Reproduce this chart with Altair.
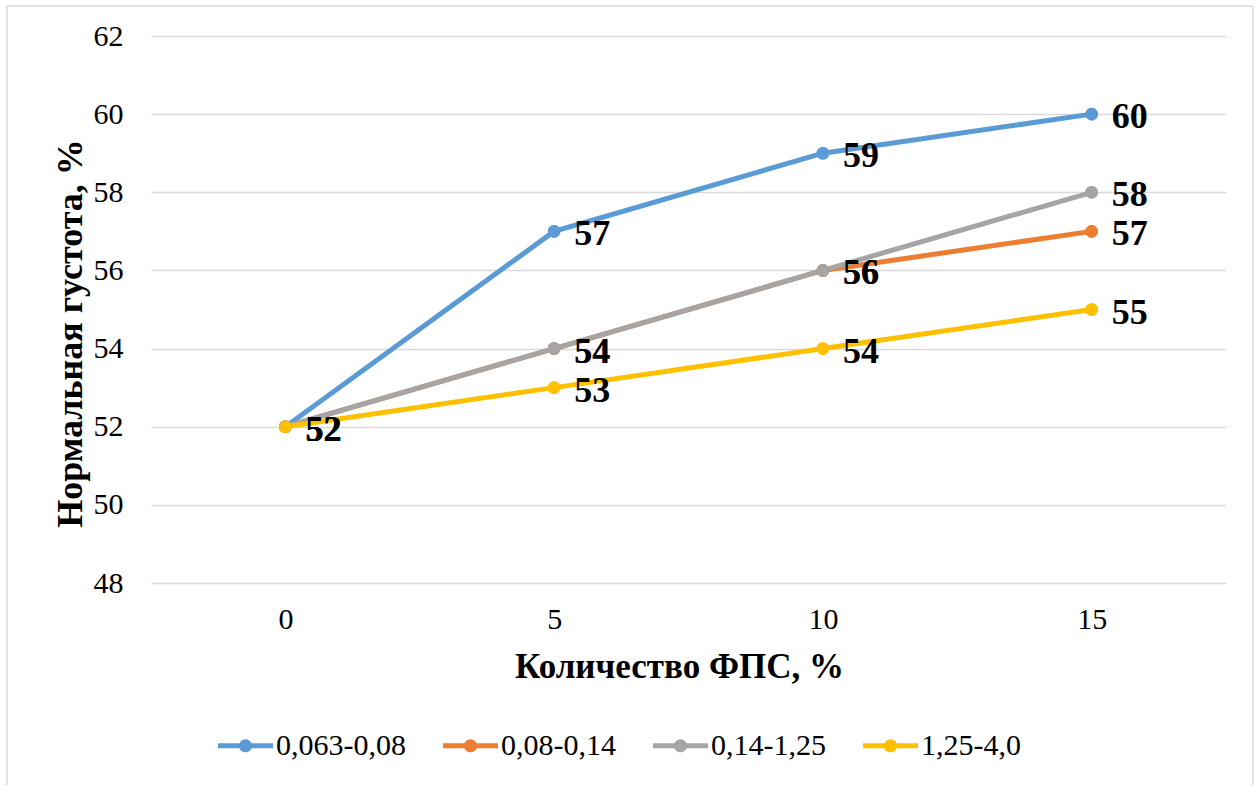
import altair as alt
import pandas as pd

# Количество ФПС, %
fps_amount = [0, 5, 10, 15]

# Fraction series and their normal consistency values, %
series_names = ["0,063-0,08", "0,08-0,14", "0,14-1,25", "1,25-4,0"]
s_0063_008 = [52, 57, 59, 60]
s_008_014 = [52, 54, 56, 57]
s_014_125 = [52, 54, 56, 58]
s_125_40 = [52, 53, 54, 55]

series_colors = ["#5B9BD5", "#ED7D31", "#A5A5A5", "#FFC000"]
y_ticks = [48, 50, 52, 54, 56, 58, 60, 62]

rows = []
for name, values in zip(series_names, [s_0063_008, s_008_014, s_014_125, s_125_40]):
    for xv, yv in zip(fps_amount, values):
        rows.append({"fps": xv, "val": yv, "series": name})
df = pd.DataFrame(rows)

FONT = "Liberation Serif"
W, H = 1075, 547

x_enc = alt.X(
    "fps:O",
    sort=fps_amount,
    scale=alt.Scale(type="point", padding=0.5),
    axis=alt.Axis(
        title="Количество ФПС, %",
        labelAngle=0,
        ticks=False,
        domain=False,
        grid=False,
        labelFont=FONT,
        labelFontSize=30,
        labelColor="#000000",
        labelPadding=21,
        titleFont=FONT,
        titleFontSize=35,
        titleFontWeight="bold",
        titleColor="#000000",
        titlePadding=15,
        titleX=528,
        titleAlign="center",
    ),
)
y_enc = alt.Y(
    "val:Q",
    scale=alt.Scale(domain=[48, 62], nice=False, zero=False),
    axis=alt.Axis(
        title="Нормальная густота, %",
        values=y_ticks,
        ticks=False,
        domain=False,
        grid=True,
        gridColor="#D9D9D9",
        gridWidth=1.5,
        labelFont=FONT,
        labelFontSize=30,
        labelColor="#000000",
        labelPadding=28,
        titleFont=FONT,
        titleFontSize=36,
        titleFontWeight="bold",
        titleColor="#000000",
        titleX=-81,
        titleY=297,
        titleAlign="center",
        titleBaseline="middle",
    ),
)
color_scale = alt.Scale(domain=series_names, range=series_colors)

base = alt.Chart(df)

# legend glyph: a short line with a dot in the middle (same winding, so the dot stays filled)
legend_path = (
    "M-1,-0.09 L1,-0.09 L1,0.09 L-1,0.09 Z "
    "M-0.24,0 A0.24,0.24 0 1,1 0.24,0 A0.24,0.24 0 1,1 -0.24,0 Z"
)

# markers carrying the legend (first layer so its legend settings win)
points_legend = base.mark_point(filled=True, size=160, opacity=1, shape="circle").encode(
    x=x_enc,
    y=y_enc,
    color=alt.Color(
        "series:N",
        scale=color_scale,
        legend=alt.Legend(
            title=None,
            orient="none",
            direction="horizontal",
            legendX=67,
            legendY=682,
            symbolType=legend_path,
            symbolSize=3025,
            symbolStrokeWidth=0,
            symbolOpacity=1,
            labelFont=FONT,
            labelFontSize=30,
            labelColor="#000000",
            labelOffset=3,
            columnPadding=37,
        ),
    ),
)

lines = base.mark_line(strokeWidth=5, strokeCap="round").encode(
    x=x_enc,
    y=y_enc,
    color=alt.Color("series:N", scale=color_scale, legend=None),
)

points = base.mark_point(filled=True, size=160, opacity=1, shape="circle").encode(
    x=x_enc,
    y=y_enc,
    color=alt.Color("series:N", scale=color_scale, legend=None),
)

labels = base.mark_text(
    align="left",
    baseline="middle",
    dx=20,
    dy=3,
    font=FONT,
    fontSize=36,
    fontWeight="bold",
    color="#000000",
).encode(x=x_enc, y=y_enc, text="val:Q", detail="series:N")

# outer frame of the figure (left, top and right edges)
frame_df = pd.DataFrame({"k": [0]})
frame_left = alt.Chart(frame_df).mark_rule(color="#D9D9D9", strokeWidth=1.5).encode(
    x=alt.value(-144), y=alt.value(-30), y2=alt.value(750)
)
frame_top = alt.Chart(frame_df).mark_rule(color="#D9D9D9", strokeWidth=1.5).encode(
    x=alt.value(-144), x2=alt.value(1102), y=alt.value(-30)
)
frame_right = alt.Chart(frame_df).mark_rule(color="#D9D9D9", strokeWidth=1.5).encode(
    x=alt.value(1102), y=alt.value(-30), y2=alt.value(750)
)

chart = (
    alt.layer(points_legend, frame_left, frame_top, frame_right, lines, points, labels)
    .properties(
        width=W,
        height=H,
        padding={"left": 6, "top": 5, "right": 0, "bottom": 0},
        background="#FFFFFF",
    )
    .configure_view(stroke=None)
)

chart.save("out.html", embed_options={"renderer": "svg", "actions": False})
